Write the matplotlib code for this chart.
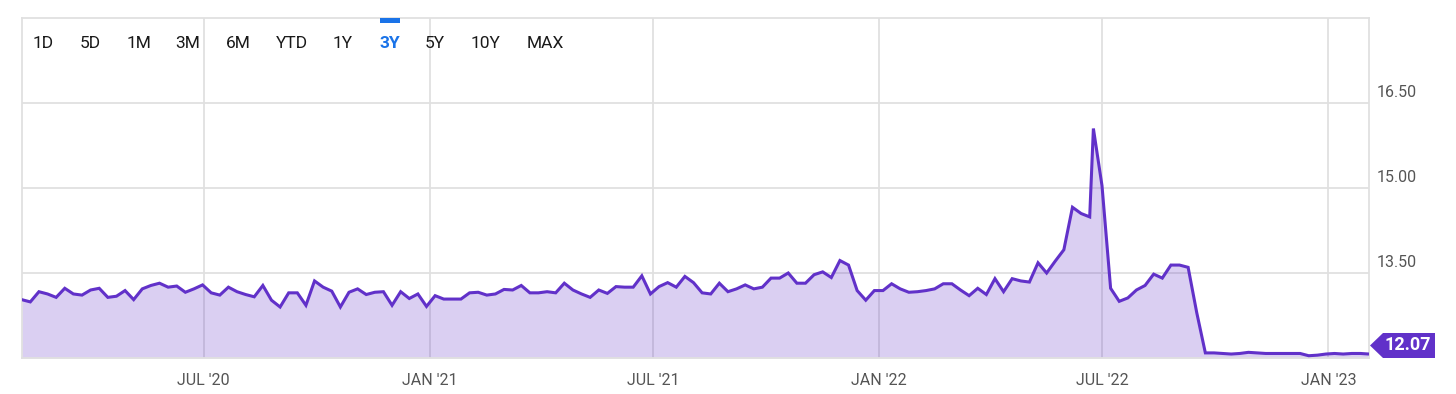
import matplotlib
matplotlib.use("Agg")
import matplotlib.pyplot as plt
import matplotlib.dates as mdates
import matplotlib.transforms as mtransforms
from matplotlib.patches import Polygon, Rectangle
import numpy as np
import pandas as pd

# weekly values, Feb 2020 .. Jun 2022
values_a = [
    13.03, 12.99, 13.17, 13.13, 13.07, 13.23, 13.13, 13.11, 13.20, 13.23,
    13.07, 13.09, 13.19, 13.03, 13.22, 13.28, 13.32, 13.25, 13.27, 13.16,
    13.22, 13.29, 13.15, 13.11, 13.25, 13.17, 13.12, 13.08, 13.28, 13.02,
    12.90, 13.15, 13.15, 12.93, 13.36, 13.25, 13.18, 12.90, 13.16, 13.22,
    13.12, 13.16, 13.17, 12.93, 13.17, 13.05, 13.13, 12.91, 13.10, 13.04,
    13.04, 13.04, 13.15, 13.16, 13.11, 13.13, 13.21, 13.20, 13.28, 13.15,
    13.15, 13.17, 13.15, 13.32, 13.20, 13.13, 13.07, 13.20, 13.14, 13.26,
    13.25, 13.25, 13.45, 13.13, 13.26, 13.33, 13.25, 13.44, 13.33, 13.15,
    13.13, 13.32, 13.17, 13.22, 13.29, 13.22, 13.25, 13.41, 13.41, 13.50,
    13.32, 13.32, 13.47, 13.52, 13.42, 13.72, 13.64, 13.19, 13.02, 13.19,
    13.19, 13.31, 13.22, 13.16, 13.17, 13.19, 13.22, 13.31, 13.31, 13.20,
    13.10, 13.23, 13.12, 13.40, 13.17, 13.40, 13.36, 13.34, 13.68, 13.50,
    13.71, 13.91, 14.66, 14.55, 14.49,
]
# weekly values, late Jun 2022 .. Feb 2023
values_b = [
    16.05, 15.04, 13.23, 13.00, 13.06, 13.20, 13.28, 13.48, 13.41, 13.64,
    13.64, 13.60, 12.80, 12.09, 12.09, 12.08, 12.07, 12.08, 12.10, 12.09,
    12.08, 12.08, 12.08, 12.08, 12.08, 12.04, 12.05, 12.07, 12.08, 12.07,
    12.08, 12.08, 12.07,
]
dates_a = pd.date_range("2020-02-04", periods=len(values_a), freq="7D")
dates_b = pd.date_range("2022-06-24", periods=len(values_b), freq="7D")
dates = dates_a.append(dates_b)
values = np.array(values_a + values_b)

y_ticks = [13.5, 15.0, 16.5]
ranges = ["1D", "5D", "1M", "3M", "6M", "YTD", "1Y", "3Y", "5Y", "10Y", "MAX"]
range_x = [43, 90, 139, 188, 238, 292, 343, 390, 435, 485, 545]
active = "3Y"

W, H = 1456, 394
purple = "#6131c9"
grid_c = "#e0e0e0"
font = "Roboto"

fig = plt.figure(figsize=(W / 100, H / 100), dpi=100)
ax = fig.add_axes([21.7 / W, 1 - 358 / H, (1369 - 21.7) / W, (358 - 18) / H])

ax.fill_between(dates, values, 12, color=purple, alpha=0.23, lw=0, zorder=2)
ax.plot(dates, values, color=purple, lw=2.2, zorder=3, solid_joinstyle="miter")

ax.set_xlim(dates[0], dates[-1])
ax.set_ylim(12, 18)
ax.set_yticks(y_ticks)
ax.xaxis.set_major_locator(mdates.MonthLocator(bymonth=[1, 7]))
ax.xaxis.set_major_formatter(
    plt.FuncFormatter(lambda v, p: mdates.num2date(v).strftime("%b '%y").upper()))
ax.grid(True, color=grid_c, lw=1.3, zorder=1)
ax.set_axisbelow(True)
ax.tick_params(axis="both", length=0)
ax.tick_params(axis="x", pad=11, labelsize=11.5, labelcolor="#555555")
for lab in ax.get_xticklabels():
    lab.set_fontfamily(font)
ax.tick_params(axis="y", labelleft=False, labelright=False)
for s in ax.spines.values():
    s.set_color(grid_c)
    s.set_linewidth(1.3)

# y labels sit above their gridlines
trans = mtransforms.offset_copy(ax.get_yaxis_transform(), fig=fig, x=5.5, y=7.5, units="points")
for v in y_ticks:
    ax.text(1.0, v, f"{v:.2f}", transform=trans, ha="left", va="center",
            fontsize=11.5, color="#555555", family=font)

# current value tag
x0, x1, xb = 1370 / W, 1435 / W, 1383 / W
yt, yb, ym = 1 - 333 / H, 1 - 358 / H, 1 - 345.5 / H
fig.add_artist(Polygon([[x0, ym], [xb, yt], [x1, yt], [x1, yb], [xb, yb]],
                       closed=True, color=purple, transform=fig.transFigure, lw=0))
fig.text((xb + x1) / 2 - 1 / W, ym, f"{values[-1]:.2f}", color="white", fontsize=13,
         fontweight="bold", ha="center", va="center", family=font)

# range selector
for lab, px in zip(ranges, range_x):
    is_on = lab == active
    fig.text(px / W, 1 - 43 / H, lab, ha="center", va="center", fontsize=12.5,
             family=font, color="#1a73e8" if is_on else "#1a1a1a",
             fontweight="bold" if is_on else "normal")
fig.add_artist(Rectangle((380 / W, 1 - 22.5 / H), 20 / W, 4.5 / H,
                         color="#1a73e8", transform=fig.transFigure, lw=0))

fig.savefig("out.png", dpi=100)
